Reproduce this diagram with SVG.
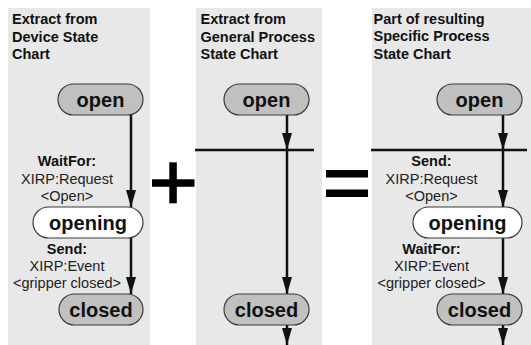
<svg xmlns="http://www.w3.org/2000/svg" width="531" height="345" viewBox="0 0 531 345">
  <style>
    .panel { fill: #e8e8e8; }
    .title { font-family: "Liberation Sans", Arial, sans-serif; font-size: 14.5px; font-weight: bold; fill: #111; }
    .state { stroke: #3a3a3a; stroke-width: 1.2; }
    .grey { fill: #c0c0c0; }
    .white { fill: #ffffff; }
    .name { font-family: "Liberation Sans", Arial, sans-serif; font-size: 20px; font-weight: bold; fill: #111; text-anchor: middle; }
    .lbl { font-family: "Liberation Sans", Arial, sans-serif; font-size: 14.5px; fill: #222; text-anchor: middle; }
    .lbl .b { font-weight: bold; fill: #111; }
    .edge { stroke: #111; stroke-width: 2.5; fill: none; }
    .bar { stroke: #111; stroke-width: 2.7; }
    .op { fill: #000; }
  </style>
  <defs>
    <marker id="head" markerUnits="userSpaceOnUse" markerWidth="18" markerHeight="11" refX="17" refY="5" orient="auto">
      <path d="M0,0 L17,5 L0,10 Z" fill="#111"/>
    </marker>
  </defs>

  <!-- background panels -->
  <g id="panels">
    <rect class="panel" x="8" y="8" width="142" height="337"/>
    <rect class="panel" x="196" y="8" width="126" height="337"/>
    <rect class="panel" x="372" y="8" width="159" height="337"/>
  </g>

  <!-- panel titles -->
  <g id="titles">
    <text class="title" x="12" y="24">Extract from<tspan x="12" y="41.5">Device State</tspan><tspan x="12" y="59">Chart</tspan></text>
    <text class="title" x="200.5" y="24">Extract from<tspan x="200.5" y="41.5">General Process</tspan><tspan x="200.5" y="59">State Chart</tspan></text>
    <text class="title" x="373.5" y="24">Part of resulting<tspan x="373.5" y="41">Specific Process</tspan><tspan x="373.5" y="58.5">State Chart</tspan></text>
  </g>

  <!-- plus and equals operators -->
  <g id="operators">
    <rect class="op" x="152" y="179.3" width="42.5" height="7.5"/>
    <rect class="op" x="169.3" y="162.3" width="7.5" height="41"/>
    <rect class="op" x="326" y="170" width="42" height="7.5"/>
    <rect class="op" x="326" y="189.5" width="42" height="7.5"/>
  </g>

  <!-- transitions -->
  <g id="connectors">
    <!-- device chart -->
    <line class="edge" x1="131" y1="115" x2="131" y2="207" marker-end="url(#head)"/>
    <line class="edge" x1="131" y1="238" x2="131" y2="294" marker-end="url(#head)"/>
    <!-- general process chart -->
    <line class="bar" x1="195" y1="150" x2="314" y2="150"/>
    <line class="edge" x1="287" y1="115" x2="287" y2="150" marker-end="url(#head)"/>
    <line class="edge" x1="287" y1="150" x2="287" y2="294" marker-end="url(#head)"/>
    <line class="edge" x1="287" y1="325" x2="287" y2="345" marker-end="url(#head)"/>
    <!-- resulting specific process chart -->
    <line class="bar" x1="371" y1="150" x2="527" y2="150"/>
    <line class="edge" x1="503" y1="115" x2="503" y2="150" marker-end="url(#head)"/>
    <line class="edge" x1="503" y1="150" x2="503" y2="207" marker-end="url(#head)"/>
    <line class="edge" x1="503" y1="238" x2="503" y2="294" marker-end="url(#head)"/>
    <line class="edge" x1="503" y1="325" x2="503" y2="345" marker-end="url(#head)"/>
  </g>

  <!-- transition labels -->
  <g id="labels">
    <text class="lbl" x="67" y="166"><tspan class="b">WaitFor:</tspan><tspan x="67" y="184">XIRP:Request</tspan><tspan x="67" y="201">&lt;Open&gt;</tspan></text>
    <text class="lbl" x="67" y="253.5"><tspan class="b">Send:</tspan><tspan x="67" y="271">XIRP:Event</tspan><tspan x="67" y="288">&lt;gripper closed&gt;</tspan></text>
    <text class="lbl" x="431.5" y="165.5"><tspan class="b">Send:</tspan><tspan x="431.5" y="184">XIRP:Request</tspan><tspan x="431.5" y="200.5">&lt;Open&gt;</tspan></text>
    <text class="lbl" x="431.5" y="253.5"><tspan class="b">WaitFor:</tspan><tspan x="431.5" y="271">XIRP:Event</tspan><tspan x="431.5" y="288">&lt;gripper closed&gt;</tspan></text>
  </g>

  <!-- device chart states -->
  <g id="dev-open">
    <rect class="state grey" x="58" y="84" width="85" height="31" rx="15.5"/>
    <text class="name" x="100.5" y="106.5">open</text>
  </g>
  <g id="dev-opening">
    <rect class="state white" x="33" y="207" width="110" height="31" rx="15.5"/>
    <text class="name" x="88" y="229.5">opening</text>
  </g>
  <g id="dev-closed">
    <rect class="state grey" x="59" y="294" width="84" height="31" rx="15.5"/>
    <text class="name" x="101" y="316.5">closed</text>
  </g>

  <!-- general process chart states -->
  <g id="gen-open">
    <rect class="state grey" x="224" y="84" width="85" height="31" rx="15.5"/>
    <text class="name" x="266.5" y="106.5">open</text>
  </g>
  <g id="gen-closed">
    <rect class="state grey" x="224" y="294" width="85" height="31" rx="15.5"/>
    <text class="name" x="266.5" y="316.5">closed</text>
  </g>

  <!-- resulting specific process chart states -->
  <g id="spec-open">
    <rect class="state grey" x="437" y="84" width="85" height="31" rx="15.5"/>
    <text class="name" x="479.5" y="106.5">open</text>
  </g>
  <g id="spec-opening">
    <rect class="state white" x="413" y="207" width="109" height="31" rx="15.5"/>
    <text class="name" x="467.5" y="229.5">opening</text>
  </g>
  <g id="spec-closed">
    <rect class="state grey" x="437" y="294" width="85" height="31" rx="15.5"/>
    <text class="name" x="479.5" y="316.5">closed</text>
  </g>
</svg>
